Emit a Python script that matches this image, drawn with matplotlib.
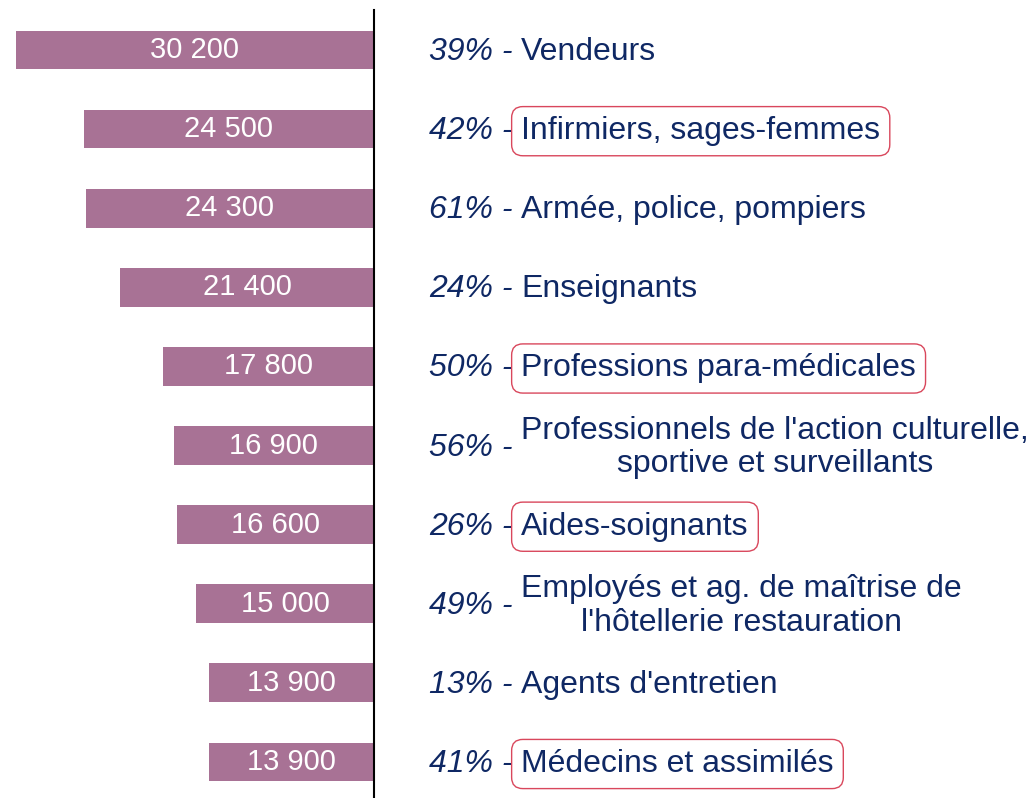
import matplotlib.pyplot as plt

plt.rcParams['font.family'] = ['Liberation Sans', 'DejaVu Sans']

# Effectifs et part (%) par métier
valeurs = [30200, 24500, 24300, 21400, 17800, 16900, 16600, 15000, 13900, 13900]
etiquettes_valeurs = ['30 200', '24 500', '24 300', '21 400', '17 800',
                      '16 900', '16 600', '15 000', '13 900', '13 900']
pourcentages = ['39%', '42%', '61%', '24%', '50%', '56%', '26%', '49%', '13%', '41%']
metiers = ['Vendeurs',
           'Infirmiers, sages-femmes',
           'Armée, police, pompiers',
           'Enseignants',
           'Professions para-médicales',
           "Professionnels de l'action culturelle,\nsportive et surveillants",
           'Aides-soignants',
           "Employés et ag. de maîtrise de\nl'hôtellerie restauration",
           "Agents d'entretien",
           'Médecins et assimilés']
encadres = [False, True, False, False, True, False, True, False, False, True]

couleur_barre = '#A87295'
couleur_texte = '#0F2864'
couleur_cadre = '#D9475C'

fig = plt.figure(figsize=(10.32, 7.98), dpi=100)
ax = fig.add_axes([0, 0, 1, 1])

y = list(range(len(valeurs)))
ax.barh(y, [-v for v in valeurs], height=0.49, color=couleur_barre)

# axe vertical
ax.plot([0, 0], [-0.51, 9.5], color='black', lw=1.5)

for i in y:
    ax.text(-valeurs[i] / 2, i, etiquettes_valeurs[i], ha='center', va='center',
            color='white', fontsize=21)
    ax.annotate(pourcentages[i] + ' -', xy=(0, i), xytext=(100, -1.5),
                textcoords='offset points', ha='right', va='center',
                color=couleur_texte, fontsize=23, style='italic')
    kw = {}
    if encadres[i]:
        kw['bbox'] = dict(boxstyle='round,pad=0.3,rounding_size=0.35',
                          fc='white', ec=couleur_cadre, lw=1)
    ax.annotate(metiers[i], xy=(0, i), xytext=(106, -1.5),
                textcoords='offset points', ha='left', va='center',
                multialignment='center', color=couleur_texte, fontsize=23,
                linespacing=1.15, **kw)

ax.set_xlim(-31549, 55507)
ax.set_ylim(9.456, -0.632)
ax.axis('off')

fig.savefig('out.png', dpi=100)
